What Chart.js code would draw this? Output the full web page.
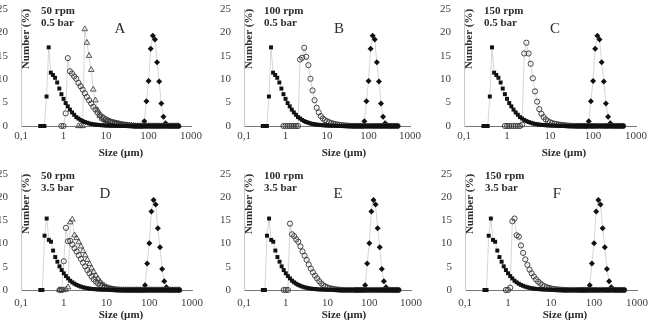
<!DOCTYPE html>
<html>
<head>
<meta charset="utf-8">
<script src="https://cdn.jsdelivr.net/npm/chart.js@4.4.1/dist/chart.umd.min.js"></script>
<style>
  html, body { margin: 0; padding: 0; background: #fff; }
  body { width: 655px; height: 323px; position: relative; overflow: hidden; }
  canvas.panel { position: absolute; }
</style>
</head>
<body>
<script>
const _ = null;

// particle size bins (µm), shared by every series
const sizes = [
  0.283, 0.317, 0.356, 0.399, 0.448, 0.502, 0.564, 0.632, 0.710, 0.796,
  0.893, 1.002, 1.125, 1.262, 1.416, 1.589, 1.783, 2.000, 2.244, 2.518,
  2.825, 3.170, 3.557, 3.991, 4.477, 5.024, 5.637, 6.325, 7.096, 7.962,
  8.934, 10.02, 11.25, 12.62, 14.16, 15.89, 17.83, 20.00, 22.44, 25.18,
  28.25, 31.70, 35.57, 39.91, 44.77, 50.24, 56.37, 63.25, 70.96, 79.62,
  89.34, 100.2, 112.5, 126.2, 141.6, 158.9, 178.3, 200.0, 224.4, 251.8,
  282.5, 317.0, 355.7, 399.1, 447.7, 502.4
];

const sizeTicks = [0.1, 1, 10, 100, 1000];
const sizeTickLabels = ['0,1', '1', '10', '100', '1000'];

// number distribution (%) per bin
const squaresTop = [
  0, 0, 0, 6.3, 16.8, 11.4, 10.9, 10.3, 9.3, 8.0,
  6.8, 5.8, 4.9, 4.2, 3.5, 2.9, 2.4, 1.9, 1.6, 1.3,
  1.05, 0.85, 0.7, 0.55, 0.45, 0.37, 0.3, 0.25, 0.2, 0.16,
  0.13, 0.1, 0.08, 0.06, 0.05, 0.04, 0.03, 0.02, 0.02, 0.01,
  0, 0, 0, 0, 0, 0, 0, 0, 0, 0,
  0, 0, 0, 0, 0, 0, 0, 0, 0, 0,
  0, 0, 0, 0, 0, 0
];
const squaresBottom = [
  0, 0, 11.7, 15.4, 10.8, 10.4, 8.5, 7.1, 6.1, 5.1,
  4.3, 3.6, 3.0, 2.5, 2.0, 1.65, 1.35, 1.1, 0.9, 0.72,
  0.58, 0.47, 0.38, 0.3, 0.24, 0.2, 0.16, 0.13, 0.1, 0.08,
  0.07, 0.05, 0.04, 0.03, 0.03, 0.02, 0.02, 0.01, 0.01, 0,
  0, 0, 0, 0, 0, 0, 0, 0, 0, 0,
  0, 0, 0, 0, 0, 0, 0, 0, 0, 0,
  0, 0, 0, 0, 0, 0
];
const diamondsTop = [
  _, _, _, _, _, _, _, _, _, _,
  _, _, _, _, _, _, _, _, _, _,
  _, _, _, _, _, _, _, _, _, _,
  _, _, _, _, _, _, _, _, _, _,
  _, _, _, _, 0, 0, 0, 0, 0, 1.0,
  5.3, 9.6, 16.5, 19.3, 18.5, 13.6, 9.5, 4.8, 2.0, 0.6,
  0.1, 0, 0, 0, 0, 0
];
const diamondsBottom = [
  _, _, _, _, _, _, _, _, _, _,
  _, _, _, _, _, _, _, _, _, _,
  _, _, _, _, _, _, _, _, _, _,
  _, _, _, _, _, _, _, _, _, _,
  _, _, _, _, 0, 0, 0, 0, 0, 1.0,
  5.7, 10.1, 16.9, 19.4, 18.4, 13.3, 9.2, 4.5, 1.9, 0.6,
  0.1, 0, 0, 0, 0, 0
];
const circlesA = [
  _, _, _, _, _, _, _, _, _, _,
  0, 0, 2.7, 14.5, 11.7, 11.2, 10.6, 10.1, 9.2, 8.5,
  7.8, 7.0, 6.2, 5.5, 4.8, 4.1, 3.5, 2.9, 2.4, 2.0,
  1.7, 1.4, 1.15, 0.95, 0.8, 0.65, 0.55, 0.45, 0.35, 0.28,
  0.22, 0.17, 0.12, 0.08, 0.05, 0.03, 0.02, 0, 0, 0,
  0, 0, 0, 0, 0, 0, 0, 0, 0, 0,
  0, 0, 0, 0, 0, 0
];
const trianglesA = [
  _, _, _, _, _, _, _, _, _, _,
  _, _, _, _, _, _, _, _, 0, 0,
  0, 20.7, 17.8, 15.0, 12.0, 7.8, 5.5, 3.4, 2.2, 1.6,
  1.3, 1.1, 1.0, 0.9, 0.8, 0.7, 0.6, 0.5, 0.4, 0.3,
  0.25, 0.2, 0.15, 0.1, 0.05, 0, 0, 0, 0, 0,
  0, 0, 0, 0, 0, 0, 0, 0, 0, 0,
  0, 0, 0, 0, 0, 0
];
const circlesB = [
  _, _, _, _, _, _, _, _, _, _,
  0, 0, 0, 0, 0, 0, 0, 0, 14.2, 14.6,
  16.7, 14.8, 13.0, 10.1, 7.6, 5.5, 3.9, 2.9, 2.1, 1.6,
  1.25, 1.0, 0.8, 0.65, 0.5, 0.4, 0.32, 0.25, 0.2, 0.15,
  0.1, 0.07, 0.04, 0.02, 0, 0, 0, 0, 0, 0,
  0, 0, 0, 0, 0, 0, 0, 0, 0, 0,
  0, 0, 0, 0, 0, 0
];
const circlesC = [
  _, _, _, _, _, _, _, _, _, _,
  0, 0, 0, 0, 0, 0, 0, 0, 0.3, 15.5,
  17.8, 15.5, 13.3, 10.2, 7.4, 5.2, 3.6, 2.6, 1.9, 1.4,
  1.05, 0.8, 0.62, 0.5, 0.4, 0.32, 0.25, 0.2, 0.15, 0.1,
  0.07, 0.04, 0.02, 0, 0, 0, 0, 0, 0, 0,
  0, 0, 0, 0, 0, 0, 0, 0, 0, 0,
  0, 0, 0, 0, 0, 0
];
const circlesD = [
  _, _, _, _, _, _, _, _, _, 0,
  0, 6.2, 13.4, 10.5, 10.6, 9.8, 9.0, 8.3, 7.5, 6.7,
  5.9, 5.1, 4.3, 3.6, 2.9, 2.3, 1.8, 1.4, 1.05, 0.8,
  0.6, 0.45, 0.32, 0.23, 0.16, 0.1, 0.06, 0.03, 0.01, 0,
  0, 0, 0, 0, 0, 0, 0, 0, 0, 0,
  0, 0, 0, 0, 0, 0, 0, 0, 0, 0,
  0, 0, 0, 0, 0, 0
];
const trianglesD = [
  _, _, _, _, _, _, _, _, _, 0,
  0, 0, 0.1, 0.6, 14.6, 15.2, 11.8, 11.2, 10.3, 9.4,
  8.4, 7.5, 6.5, 5.6, 4.7, 3.9, 3.1, 2.4, 1.8, 1.3,
  0.95, 0.65, 0.45, 0.3, 0.2, 0.12, 0.07, 0.03, 0.01, 0,
  0, 0, 0, 0, 0, 0, 0, 0, 0, 0,
  0, 0, 0, 0, 0, 0, 0, 0, 0, 0,
  0, 0, 0, 0, 0, 0
];
const circlesE = [
  _, _, _, _, _, _, _, _, _, _,
  0, 0, 0, 14.3, 12.0, 11.6, 10.9, 10.4, 9.4, 8.3,
  7.4, 6.5, 5.5, 4.6, 3.8, 3.1, 2.5, 1.9, 1.4, 1.0,
  0.75, 0.55, 0.4, 0.3, 0.2, 0.14, 0.09, 0.05, 0.02, 0,
  0, 0, 0, 0, 0, 0, 0, 0, 0, 0,
  0, 0, 0, 0, 0, 0, 0, 0, 0, 0,
  0, 0, 0, 0, 0, 0
];
const circlesF = [
  _, _, _, _, _, _, _, _, _, _,
  0, 0, 0.5, 14.8, 15.4, 11.8, 11.5, 9.6, 8.0, 6.6,
  5.4, 4.4, 3.6, 2.9, 2.3, 1.8, 1.4, 1.05, 0.8, 0.6,
  0.45, 0.33, 0.24, 0.17, 0.12, 0.08, 0.05, 0.02, 0, 0,
  0, 0, 0, 0, 0, 0, 0, 0, 0, 0,
  0, 0, 0, 0, 0, 0, 0, 0, 0, 0,
  0, 0, 0, 0, 0, 0
];

const panelLetters = ['A', 'B', 'C', 'D', 'E', 'F'];
const panelSpeeds = ['50 rpm', '100 rpm', '150 rpm', '50 rpm', '100 rpm', '150 rpm'];
const panelPressures = ['0.5 bar', '0.5 bar', '0.5 bar', '3.5 bar', '3.5 bar', '3.5 bar'];
const panelSeries = [
  { squares: squaresTop, circles: circlesA, triangles: trianglesA, diamonds: diamondsTop },
  { squares: squaresTop, circles: circlesB, triangles: null, diamonds: diamondsTop },
  { squares: squaresTop, circles: circlesC, triangles: null, diamonds: diamondsTop },
  { squares: squaresBottom, circles: circlesD, triangles: trianglesD, diamonds: diamondsBottom },
  { squares: squaresBottom, circles: circlesE, triangles: null, diamonds: diamondsBottom },
  { squares: squaresBottom, circles: circlesF, triangles: null, diamonds: diamondsBottom }
];

// plot boxes on the page: l = 0.1 µm, r = 1000 µm, t = 25 %, b = 0 %
const boxes = [
  { l: 21,  r: 191, t: 9,   b: 126, letterX: 99,  tickPad: 4, titleGap: 27 },
  { l: 244, r: 410, t: 9,   b: 126, letterX: 95,  tickPad: 4, titleGap: 27 },
  { l: 464, r: 636, t: 9,   b: 126, letterX: 91,  tickPad: 4, titleGap: 27 },
  { l: 21,  r: 192, t: 174, b: 290, letterX: 84,  tickPad: 7, titleGap: 25.5 },
  { l: 244, r: 411, t: 174, b: 290, letterX: 94,  tickPad: 7, titleGap: 25.5 },
  { l: 465, r: 637, t: 174, b: 290, letterX: 92,  tickPad: 7, titleGap: 25.5 }
];
// room around the plot box: y labels, top (must exceed half a label + tick padding), right, x labels
const Y_W = 24, PAD_T = 24, PAD_R = 22, X_H = 36;

const serif = '"Liberation Serif", "DejaVu Serif", serif';
const lineGray = '#c4c4c4';

function points(values) {
  const pts = [];
  values.forEach((v, i) => { if (v !== null) pts.push({ x: sizes[i], y: v }); });
  return pts;
}

// texts drawn inside each panel, relative to the plot box
const panelText = {
  id: 'panelText',
  afterDraw(chart, args, opts) {
    const ctx = chart.ctx;
    const a = chart.chartArea;
    ctx.save();
    ctx.fillStyle = '#2b2b2b';
    ctx.textBaseline = 'middle';
    ctx.font = 'bold 11px ' + serif;
    ctx.textAlign = 'left';
    ctx.fillText(opts.speed, a.left + 20, a.top + 2);
    ctx.fillText(opts.pressure, a.left + 20, a.top + 14.5);
    ctx.textAlign = 'center';
    ctx.fillText('Size (µm)', a.left + 100, a.bottom + opts.titleGap);
    ctx.save();
    ctx.translate(a.left + 5, a.top + 30);
    ctx.rotate(-Math.PI / 2);
    ctx.fillText('Number (%)', 0, 0);
    ctx.restore();
    ctx.font = '15px ' + serif;
    ctx.fillText(opts.letter, a.left + opts.letterX, a.top + 20);
    ctx.restore();
  }
};

boxes.forEach(function(box, k) {
  const canvas = document.createElement('canvas');
  canvas.className = 'panel';
  const w = box.r - box.l + Y_W + PAD_R;
  const h = box.b - box.t + PAD_T + X_H;
  canvas.width = w;
  canvas.height = h;
  canvas.style.width = w + 'px';
  canvas.style.height = h + 'px';
  canvas.style.left = (box.l - Y_W) + 'px';
  canvas.style.top = (box.t - PAD_T) + 'px';
  document.body.appendChild(canvas);

  const s = panelSeries[k];
  const datasets = [
    {
      label: 'squares', data: points(s.squares),
      pointStyle: 'rect', pointRadius: 2.8,
      pointBackgroundColor: '#111', pointBorderColor: '#111', pointBorderWidth: 0
    },
    {
      label: 'circles', data: points(s.circles),
      pointStyle: 'circle', pointRadius: 2.6,
      pointBackgroundColor: 'rgba(255,255,255,0)', pointBorderColor: '#333', pointBorderWidth: 0.9
    }
  ];
  if (s.triangles) {
    datasets.push({
      label: 'triangles', data: points(s.triangles),
      pointStyle: 'triangle', pointRadius: 3.2,
      pointBackgroundColor: 'rgba(255,255,255,0)', pointBorderColor: '#444', pointBorderWidth: 0.9
    });
  }
  datasets.push({
    label: 'diamonds', data: points(s.diamonds),
    pointStyle: 'rectRot', pointRadius: 3,
    pointBackgroundColor: '#111', pointBorderColor: '#111', pointBorderWidth: 0
  });
  datasets.forEach(function(d) {
    d.showLine = true;
    d.borderColor = lineGray;
    d.borderWidth = 0.7;
    d.clip = false;
  });

  new Chart(canvas, {
    type: 'scatter',
    data: { datasets: datasets },
    options: {
      responsive: false,
      animation: false,
      devicePixelRatio: 1,
      layout: { padding: { top: PAD_T, right: PAD_R, left: 0, bottom: 0 } },
      plugins: {
        legend: { display: false },
        tooltip: { enabled: false },
        panelText: {
          letter: panelLetters[k], speed: panelSpeeds[k], pressure: panelPressures[k],
          letterX: box.letterX, titleGap: box.titleGap
        }
      },
      scales: {
        x: {
          type: 'logarithmic',
          min: 0.1,
          max: 1000,
          afterBuildTicks: function(scale) {
            scale.ticks = sizeTicks.map(v => ({ value: v }));
          },
          afterFit: function(scale) { scale.height = X_H; },
          grid: { display: false, drawTicks: false },
          border: { display: true, color: '#777', width: 1 },
          ticks: {
            autoSkip: false, maxRotation: 0, padding: box.tickPad,
            color: '#404040', font: { family: serif, size: 11 },
            callback: function(value) {
              const i = sizeTicks.indexOf(value);
              return i >= 0 ? sizeTickLabels[i] : '';
            }
          }
        },
        y: {
          min: 0,
          max: 25,
          afterFit: function(scale) { scale.width = Y_W; },
          grid: { display: false, drawTicks: false },
          border: { display: true, color: '#c8c8c8', width: 1 },
          ticks: {
            stepSize: 5, padding: 13,
            color: '#404040', font: { family: serif, size: 11 }
          }
        }
      }
    },
    plugins: [panelText]
  });
});
</script>
</body>
</html>
